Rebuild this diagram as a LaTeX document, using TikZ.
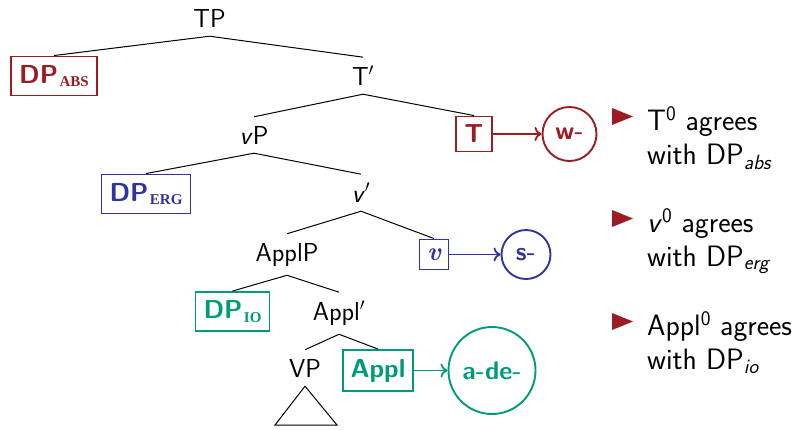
\documentclass[tikz,border=0pt]{standalone}
\usepackage{fontspec}
\usetikzlibrary{arrows.meta}
\newfontfamily\casefont{Liberation Serif}
\definecolor{agrred}{RGB}{155,28,34}
\definecolor{agrblue}{RGB}{50,50,160}
\definecolor{agrgreen}{RGB}{0,155,120}
% case subscript inside the highlighted DP boxes
\newcommand\casesub[1]{\hspace{1.5pt}\raisebox{-3.5pt}{\casefont\bfseries\fontsize{15}{15}\selectfont #1}}
\begin{document}
\begin{tikzpicture}[x=1pt,y=-1pt,
  font=\sffamily\fontsize{26}{30}\selectfont,
  cat/.style={anchor=base, inner xsep=0pt, inner ysep=9pt},
  edge/.style={line width=1pt, black},
  hbox/.style={draw, line width=1.9pt, inner xsep=8pt, inner ysep=0pt,
    minimum height=39pt,
    font=\sffamily\bfseries\fontsize{26}{30}\selectfont},
  agr/.style={draw, circle, line width=1.9pt, inner sep=0pt,
    font=\sffamily\bfseries\fontsize{25.5}{30}\selectfont},
  probe/.style={line width=1.8pt, -{To[length=7pt,width=14pt]}},
  note/.style={anchor=base west, inner sep=0pt,
    font=\sffamily\fontsize{29.5}{34}\selectfont},
  bullet/.style={fill=agrred}
]
\useasboundingbox (0,0) rectangle (803,429);

% tree categories (placed on their baselines)
\node[cat] (TP)      at (209.5,27) {TP};
\node[cat] (Tbar)    at (363,85)   {T$'$};
\node[cat] (vP)      at (254,144)  {\textsl{v}P};
\node[cat] (vbar)    at (361,202)  {\textsl{v}$'$};
\node[cat] (ApplP)   at (287,261)  {ApplP};
\node[cat] (Applbar) at (339,320)  {Appl$'$};
\node[cat] (VP)      at (305,377)  {VP};

% highlighted arguments and heads
\node[hbox, agrred]   (DPabs) at (54,76)     {DP\casesub{ABS}};
\node[hbox, agrblue]  (DPerg) at (146,194)   {DP\casesub{ERG}};
\node[hbox, agrgreen] (DPio)  at (232.5,311.5) {DP\casesub{IO}};
\node[hbox, agrred, minimum width=36pt, minimum height=35pt] (T) at (474,134) {T};
\node[hbox, agrblue, inner xsep=0pt, minimum width=29pt, minimum height=30pt]
  (v) at (434,254.5) {\rmfamily\bfseries\itshape v};
\node[hbox, agrgreen, minimum height=41pt] (Appl) at (378,370.5) {Appl};

% agreement morphemes
\node[agr, agrred,   minimum size=54pt] (w)   at (569.5,134) {w-};
\node[agr, agrblue,  minimum size=49pt] (s)   at (526,254.5) {s-};
\node[agr, agrgreen, minimum size=87pt] (ade) at (492,370.5) {a-de-};

% branches
\draw[edge] (TP.south) -- (DPabs.north);
\draw[edge] (TP.south) -- (Tbar.north);
\draw[edge] (Tbar.south) -- (vP.north);
\draw[edge] (Tbar.south) -- (T.north);
\draw[edge] (vP.south) -- (DPerg.north);
\draw[edge] (vP.south) -- (vbar.north);
\draw[edge] (vbar.south) -- (ApplP.north);
\draw[edge] (vbar.south) -- (v.north);
\draw[edge] (ApplP.south) -- (DPio.north);
\draw[edge] (ApplP.south) -- (Applbar.north);
\draw[edge] (Applbar.south) -- (VP.north);
\draw[edge] (Applbar.south) -- (Appl.north);

% VP triangle
\coordinate (triL) at (275,425);
\coordinate (triR) at (337,425);
\draw[edge] (VP.south) -- (triL) -- (triR) -- cycle;

% agreement arrows
\draw[probe, agrred]   (T) -- (w);
\draw[probe, agrblue]  (v) -- (s);
\draw[probe, agrgreen] (Appl) -- (ade);

% notes
\fill[bullet] (612,108) -- (633,116.5) -- (612,125) -- cycle;
\fill[bullet] (612,210) -- (633,218.5) -- (612,227) -- cycle;
\fill[bullet] (612,313) -- (633,321.5) -- (612,330) -- cycle;
\node[note] (n1a) at (647,130) {T\textsuperscript{0} agrees};
\node[note] (n1b) at (647,164) {with DP\textsubscript{\slshape abs}};
\node[note] (n2a) at (647,232) {\textsl{v}\textsuperscript{0} agrees};
\node[note] (n2b) at (647,266) {with DP\textsubscript{\slshape erg}};
\node[note] (n3a) at (647,335) {Appl\textsuperscript{0} agrees};
\node[note] (n3b) at (647,369) {with DP\textsubscript{\slshape io}};
\end{tikzpicture}
\end{document}
